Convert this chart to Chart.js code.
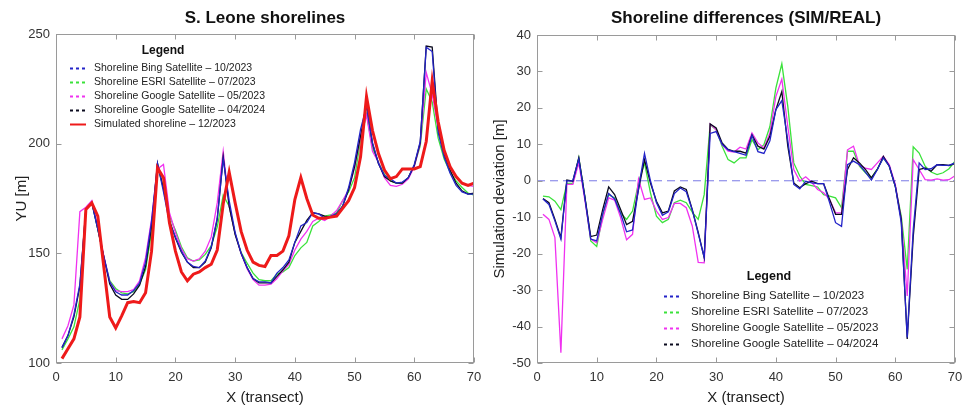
<!DOCTYPE html>
<html>
<head>
<meta charset="utf-8">
<script src="https://cdn.jsdelivr.net/npm/chart.js@4.4.1/dist/chart.umd.min.js"></script>
<style>
  html, body { margin: 0; padding: 0; background: #ffffff; }
  #wrap { display: flex; width: 968px; height: 409px; }
  canvas { display: block; }
</style>
</head>
<body>
<div id="wrap">
  <canvas id="shorelines" width="484" height="409"></canvas>
  <canvas id="differences" width="484" height="409"></canvas>
</div>
<script>
// Transect numbers along the beach
const transects = [1,2,3,4,5,6,7,8,9,10,11,12,13,14,15,16,17,18,19,20,21,22,23,24,25,26,27,28,29,30,31,32,33,34,35,36,37,38,39,40,41,42,43,44,45,46,47,48,49,50,51,52,53,54,55,56,57,58,59,60,61,62,63,64,65,66,67,68,69,70];

// Shoreline position Yu [m] per transect
const simulated = [102,106.5,111,121,170,173,167,144,121,116,121.5,127.5,128,127.5,132,151,189,184.5,164,151,141.5,137.5,140.5,141.5,143.5,145,151.5,172.5,187,173,160,151.5,146,144.5,144,149,149,151,158,174.5,184.5,175,167.5,166,166,166.5,167,170.5,174,180,194,221.5,206,195.5,188,184,185,188.5,188.5,188.5,189.5,201,228.5,210,197,189.5,185,182,181,182];
const bing = [107,112.5,122,136,170,173,161,148.5,137,132.5,131,131,133,136.5,146,164.5,191,178,164,157.5,151,146,144,143.5,146.5,153,166,193,174,159.5,150,143.5,138.5,137,137,136.5,141,143.5,147,155,162.5,164,168.5,168,166,167,168,171.5,180,191.5,206.5,217,200.5,191,185.5,184,182,182.5,184.5,190.5,201,244,242,205,194,186.5,181,178,177,177];
const esri = [106,111,116.5,129,170.5,173.5,161,148.5,137.5,134,132,131.5,132.5,136,142.5,159.5,189.5,180,167,160.5,153,148,146.5,147,149.5,153.5,162,176.5,171.5,159,150.5,145.5,141,138,137.5,137.5,140.5,141.5,143.5,149,152.5,155,162.5,164.5,167,167.5,168.5,174,178,184.5,201.5,213.5,198,191.5,186,183,182,182,184.5,190,199,225,219,202.5,193,187,183,180,177.5,176.5];
const google2023 = [111,117,126.5,169,171,174,162,149,137,133,132.5,132.5,133.5,137.5,148,165.5,188.5,190.5,168.5,159.5,152,147.5,146.5,147.5,151,157.5,173,196.5,171.5,159,150,143,138,135.5,135.5,136,138.5,142,145,151.5,156.5,160,164.5,166,165,167,169.5,174,179,189,203,213,196.5,191.5,184.5,181,180.5,181.5,184,189.5,200,232.5,222.5,207,196.5,189.5,184.5,182,181,180.5];
const google2024 = [107,112.5,121,135,170,173,161,148.5,136,131,129,129,131.5,135.5,144,162,191,179.5,165,157,150.5,146,143.5,143.5,146,152.5,165.5,194,171.5,158.5,150,143.5,138.5,136.5,136.5,136.5,139.5,142.5,146,155,160,165,168.5,168,167,166.5,168,171.5,179,189.5,203.5,218,200,191,185,183,182,182,184.5,190,200.5,244.5,244,207,195,188,182,178.5,177,177.5];

// Simulation deviation SIM - REAL [m] per transect
const diffBing = [-5,-6.5,-11,-16,0,0,6,-4.5,-16,-16.5,-9,-3.5,-5,-9,-14,-13.5,-2,7.5,0,-6,-9.5,-8.5,-3.5,-2,-3,-8,-14.5,-21,13,13.5,10,8.5,8,7.5,7,12.5,8,7.5,11,19.5,22,11,-1,-2.2,-0.1,-0.6,-0.8,-0.8,-6,-11.5,-12.5,4.4,5.4,4.4,2.4,0.2,3.1,6.3,4,-1.5,-11.5,-43,-13.5,4.9,3.1,3.3,4.4,4.2,4.2,4.9];
const diffEsri = [-4.2,-4.4,-5.6,-7.9,-0.7,-0.7,6.3,-4.2,-16.5,-18,-9.7,-3.8,-4.7,-8.8,-10.6,-8.3,-0.6,4.9,-3.3,-9.7,-11.5,-10.6,-6,-5.3,-6,-8.6,-10.6,-3.8,15.4,14,9.5,5.8,4.9,6.3,6.3,11.3,8.5,9.9,14.9,25.4,32.1,20.4,4.9,1.3,-1,-1.3,-1.7,-3.8,-4.2,-4.7,-7.4,8.1,8.1,4,2.2,0.8,3.3,6.3,4,-1.5,-9.7,-24.3,9.3,7.6,4,2.4,1.7,2.2,3.3,5.4];
const diffGoogle2023 = [-9.2,-10.6,-15.6,-47.2,-1,-1,4.9,-5.1,-16,-17,-10.6,-4.7,-5.3,-10.1,-16.2,-14.7,0.5,-5.1,-4.7,-8.3,-10.6,-10.1,-6.2,-6.2,-7.4,-12.4,-22.4,-22.5,15.6,14,9.9,8.1,7.9,9.2,8.7,13.1,10.4,9,13.1,23.1,27.9,14.9,3.1,-0.1,1.1,-0.4,-2.4,-3.3,-5.1,-8.8,-8.8,8.5,9.5,4.2,3.5,3.1,4.9,6.7,4.4,-1,-10.6,-31.6,5.8,3.1,0.3,0.2,0.5,0.2,0.3,1.4];
const diffGoogle2024 = [-4.9,-6,-10.6,-15.6,0.2,-0.1,6.3,-4.2,-15.3,-14.9,-7.9,-1.7,-3.8,-7.9,-12,-11.1,-2.4,5.8,-0.6,-5.6,-8.8,-8.3,-2.8,-1.7,-2.4,-7.9,-14.2,-21.1,15.6,14.5,10.4,8.6,8.1,8.1,7.6,12.6,9.5,8.7,12.2,19.5,24.5,9.5,-0.6,-1.9,-0.8,-0.1,-0.8,-0.8,-5.1,-9.2,-9.2,3.1,6.3,4.9,3.1,0.8,3.1,6.7,4,-1.5,-10.6,-43.4,-15.5,3.1,3.5,2.6,4.4,4.4,4.2,4.7];
const zeroLevel = [0, 0];

// Tick values
const xTicks = [0,10,20,30,40,50,60,70];
const shorelineTicks = [100,150,200,250];
const deviationTicks = [-50,-40,-30,-20,-10,0,10,20,30,40];

// Series names
const LBL_BING = 'Shoreline Bing Satellite \u2013 10/2023';
const LBL_ESRI = 'Shoreline ESRI Satellite \u2013 07/2023';
const LBL_G23 = 'Shoreline Google Satellite \u2013 05/2023';
const LBL_G24 = 'Shoreline Google Satellite \u2013 04/2024';
const LBL_SIM = 'Simulated shoreline \u2013 12/2023';

const FONT = '"Liberation Sans", Arial, sans-serif';
const C_BLUE = '#2323c8', C_GREEN = '#3ae23a', C_MAGENTA = '#f032f0', C_BLACK = '#0a0a1e', C_RED = '#ee1a1a';

function series(label, data, color, width, order, legendDash) {
  return { label, data, borderColor: color, backgroundColor: color, borderWidth: width,
           pointRadius: 0, tension: 0, fill: false, order, legendDash };
}

// Frame, inner tick marks, bold title and in-plot legend
function decorations(cfg) {
  return {
    id: 'decorations',
    afterDatasetsDraw(chart) {
      const { ctx, chartArea: a, scales } = chart;
      const L = Math.round(a.left) + 0.5, R = Math.round(a.right) - 0.5;
      const T = Math.round(a.top) + 0.5, B = Math.round(a.bottom) - 0.5;
      ctx.save();
      ctx.strokeStyle = '#9a9a9a';
      ctx.lineWidth = 1;
      ctx.strokeRect(L, T, R - L, B - T);
      const tl = 5;
      ctx.beginPath();
      scales.x.ticks.forEach(t => {
        const px = Math.round(scales.x.getPixelForValue(t.value)) + 0.5;
        ctx.moveTo(px, B); ctx.lineTo(px, B - tl);
        ctx.moveTo(px, T); ctx.lineTo(px, T + tl);
      });
      scales.y.ticks.forEach(t => {
        const py = Math.round(scales.y.getPixelForValue(t.value)) + 0.5;
        ctx.moveTo(L, py); ctx.lineTo(L + tl, py);
        ctx.moveTo(R, py); ctx.lineTo(R - tl, py);
      });
      ctx.stroke();
      ctx.restore();
    },
    afterDraw(chart) {
      const { ctx, chartArea: a } = chart;
      ctx.save();
      ctx.fillStyle = '#111';
      ctx.textAlign = 'center';
      ctx.textBaseline = 'middle';
      ctx.font = 'bold 17px ' + FONT;
      ctx.fillText(cfg.title, (a.left + a.right) / 2, 18);

      const lg = cfg.legend;
      ctx.font = 'bold ' + lg.titleSize + 'px ' + FONT;
      ctx.fillText('Legend', lg.titleX, lg.titleY);
      ctx.textAlign = 'left';
      ctx.font = lg.size + 'px ' + FONT;
      let row = 0;
      chart.data.datasets.forEach(ds => {
        if (!ds.legendDash) return;
        const y = lg.rowY0 + row * lg.rowStep;
        ctx.strokeStyle = ds.borderColor;
        ctx.lineWidth = ds.legendDash === 'solid' ? 2 : 1.8;
        ctx.setLineDash(ds.legendDash === 'solid' ? [] : [3, 3]);
        ctx.beginPath();
        ctx.moveTo(lg.x0, Math.round(y) + 0.5);
        ctx.lineTo(lg.x0 + lg.len, Math.round(y) + 0.5);
        ctx.stroke();
        ctx.fillStyle = '#222';
        ctx.fillText(ds.label, lg.textX, y);
        row++;
      });
      ctx.restore();
    }
  };
}

function buildOptions(yTicks, yMin, yMax, yTitle, yWidth, yTitlePad, pad) {
  return {
    responsive: false,
    animation: false,
    layout: { padding: pad },
    plugins: { legend: { display: false }, title: { display: false }, tooltip: { enabled: false } },
    scales: {
      x: {
        type: 'linear', min: 0, max: 70,
        afterBuildTicks: s => { s.ticks = xTicks.map(v => ({ value: v })); },
        afterFit: s => { s.height = 46; s.paddingLeft = 0; s.paddingRight = 0; },
        grid: { display: false, drawTicks: false, tickLength: 0 },
        border: { display: false },
        ticks: { color: '#333', font: { size: 13, family: FONT }, padding: 7, maxRotation: 0, autoSkip: false },
        title: { display: true, text: 'X (transect)', color: '#222', font: { size: 15, family: FONT }, padding: { top: 0, bottom: 2 } }
      },
      y: {
        type: 'linear', min: yMin, max: yMax,
        afterBuildTicks: s => { s.ticks = yTicks.map(v => ({ value: v })); },
        afterFit: s => { s.width = yWidth; s.paddingTop = 0; s.paddingBottom = 0; },
        grid: { display: false, drawTicks: false, tickLength: 0 },
        border: { display: false },
        ticks: { color: '#333', font: { size: 13, family: FONT }, padding: 6, autoSkip: false },
        title: { display: true, text: yTitle, color: '#222', font: { size: 15, family: FONT }, padding: { top: yTitlePad, bottom: 0 } }
      }
    }
  };
}

new Chart(document.getElementById('shorelines'), {
  type: 'line',
  data: {
    labels: transects,
    datasets: [
      series(LBL_BING, bing, C_BLUE, 1.3, 1, 'dash'),
      series(LBL_ESRI, esri, C_GREEN, 1.3, 4, 'dash'),
      series(LBL_G23, google2023, C_MAGENTA, 1.3, 3, 'dash'),
      series(LBL_G24, google2024, C_BLACK, 1.3, 2, 'dash'),
      series(LBL_SIM, simulated, C_RED, 3, 0, 'solid')
    ]
  },
  options: buildOptions(shorelineTicks, 100, 250, 'YU [m]', 56, 13, { top: 34, right: 10, bottom: 0, left: 0 }),
  plugins: [decorations({
    title: 'S. Leone shorelines',
    legend: { x0: 70, len: 16, textX: 94, titleX: 163, titleY: 51, rowY0: 68, rowStep: 14.1, size: 10.5, titleSize: 12 }
  })]
});

new Chart(document.getElementById('differences'), {
  type: 'line',
  data: {
    labels: transects,
    datasets: [
      series(LBL_BING, diffBing, C_BLUE, 1.3, 1, 'dash'),
      series(LBL_ESRI, diffEsri, C_GREEN, 1.3, 4, 'dash'),
      series(LBL_G23, diffGoogle2023, C_MAGENTA, 1.3, 3, 'dash'),
      series(LBL_G24, diffGoogle2024, C_BLACK, 1.3, 2, 'dash'),
      { label: 'zero', data: [{ x: 0, y: zeroLevel[0] }, { x: 70, y: zeroLevel[1] }], borderColor: '#7878e6',
        borderWidth: 1, borderDash: [8, 5], pointRadius: 0, order: 5 }
    ]
  },
  options: buildOptions(deviationTicks, -50, 40, 'Simulation deviation [m]', 53, 7, { top: 35, right: 13, bottom: 0, left: 0 }),
  plugins: [decorations({
    title: 'Shoreline differences (SIM/REAL)',
    legend: { x0: 180, len: 17, textX: 207, titleX: 285, titleY: 277, rowY0: 296, rowStep: 16, size: 11.5, titleSize: 12.5 }
  })]
});
</script>
</body>
</html>
